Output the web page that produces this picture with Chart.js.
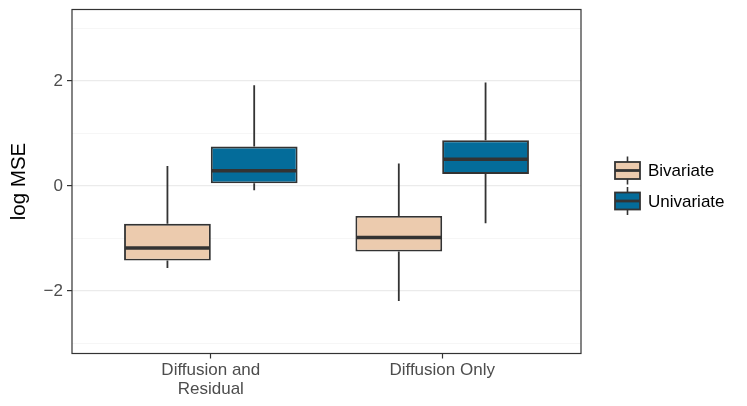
<!DOCTYPE html>
<html><head><meta charset="utf-8">
<script src="https://cdn.jsdelivr.net/npm/chart.js@4"></script>
<style>html,body{margin:0;padding:0;background:#fff}#wrap{width:747px;height:406px}</style>
</head><body><div id="wrap"><canvas id="c" width="747" height="406"></canvas></div>
<script>
const categories = [['Diffusion and', 'Residual'], ['Diffusion Only']];
const seriesNames = ['Bivariate', 'Univariate'];
const bivLow  = [-1.56, -2.19];
const bivQ1   = [-1.42, -1.25];
const bivMed  = [-1.18, -0.98];
const bivQ3   = [-0.72, -0.57];
const bivHigh = [0.38, 0.43];
const uniLow  = [-0.08, -0.71];
const uniQ1   = [0.05, 0.23];
const uniMed  = [0.29, 0.51];
const uniQ3   = [0.75, 0.87];
const uniHigh = [1.92, 1.97];
const yGridValues = [-3, -2, -1, 0, 1, 2, 3];
const yTickLabels = {'-2': '\u22122', '0': '0', '2': '2'};

const FONT = "'Liberation Sans', Arial, sans-serif";
const colors = ['#ECCBAE', '#046C9A'];
const stats = [
  {low: bivLow, q1: bivQ1, med: bivMed, q3: bivQ3, high: bivHigh},
  {low: uniLow, q1: uniQ1, med: uniMed, q3: uniQ3, high: uniHigh}
];

function boxData(s) {
  return categories.map((c, i) => ({x: i + 1, y: [s.q1[i], s.q3[i]]}));
}

const boxPlugin = {
  id: 'boxWhiskers',
  afterDatasetsDraw(chart) {
    const ctx = chart.ctx, ys = chart.scales.y;
    chart.data.datasets.forEach((ds, di) => {
      const st = stats[di];
      chart.getDatasetMeta(di).data.forEach((bar, i) => {
        const x = bar.x, w = bar.width;
        ctx.save();
        ctx.strokeStyle = '#333333';
        ctx.lineWidth = 1.8;
        ctx.beginPath();
        ctx.moveTo(x, ys.getPixelForValue(st.high[i]));
        ctx.lineTo(x, ys.getPixelForValue(st.q3[i]));
        ctx.moveTo(x, ys.getPixelForValue(st.low[i]));
        ctx.lineTo(x, ys.getPixelForValue(st.q1[i]));
        ctx.stroke();
        ctx.lineWidth = 3.6;
        const ym = ys.getPixelForValue(st.med[i]);
        ctx.beginPath();
        ctx.moveTo(x - w / 2 + 0.9, ym);
        ctx.lineTo(x + w / 2 - 0.9, ym);
        ctx.stroke();
        ctx.restore();
      });
    });
    // panel border
    const a = chart.chartArea;
    ctx.save();
    ctx.strokeStyle = '#333333';
    ctx.lineWidth = 1.2;
    ctx.strokeRect(a.left, a.top, a.right - a.left, a.bottom - a.top);
    ctx.restore();
  },
  afterDraw(chart) {
    // legend
    const ctx = chart.ctx, a = chart.chartArea;
    const kx = a.right + 34, kw = 25, kh = 17;
    const centers = [170.5, 201];
    chart.data.datasets.forEach((ds, di) => {
      const cy = centers[di];
      ctx.save();
      ctx.strokeStyle = '#333333';
      ctx.lineWidth = 1.6;
      ctx.beginPath();
      ctx.moveTo(kx + kw / 2, cy - 14); ctx.lineTo(kx + kw / 2, cy - kh / 2);
      ctx.moveTo(kx + kw / 2, cy + kh / 2); ctx.lineTo(kx + kw / 2, cy + 14);
      ctx.stroke();
      ctx.fillStyle = ds.backgroundColor;
      ctx.fillRect(kx, cy - kh / 2, kw, kh);
      ctx.lineWidth = 1.8;
      ctx.strokeRect(kx, cy - kh / 2, kw, kh);
      ctx.lineWidth = 2.8;
      ctx.beginPath();
      ctx.moveTo(kx, cy); ctx.lineTo(kx + kw, cy);
      ctx.stroke();
      ctx.fillStyle = '#000000';
      ctx.font = '17px ' + FONT;
      ctx.textBaseline = 'middle';
      ctx.textAlign = 'left';
      ctx.fillText(ds.label, kx + kw + 8, cy + 1);
      ctx.restore();
    });
  }
};

new Chart(document.getElementById('c'), {
  type: 'bar',
  data: {
    datasets: seriesNames.map((n, i) => ({
      label: n,
      data: boxData(stats[i]),
      backgroundColor: colors[i],
      borderColor: '#333333',
      borderWidth: 1.9,
      borderSkipped: false,
      categoryPercentage: 0.75,
      barPercentage: 1.0
    }))
  },
  options: {
    responsive: false,
    animation: false,
    devicePixelRatio: 1,
    layout: {padding: {top: 9.5, right: 166, left: 0, bottom: 0}},
    plugins: {legend: {display: false}, tooltip: {enabled: false}},
    scales: {
      x: {
        type: 'linear',
        min: 0.4, max: 2.6,
        offset: false,
        afterBuildTicks: (s) => { s.ticks = categories.map((c, i) => ({value: i + 1})); },
        afterFit: (s) => { s.height = 52.5; s.paddingLeft = 0; s.paddingRight = 0; },
        border: {display: false},
        grid: {display: true, offset: false, drawOnChartArea: false, drawTicks: true, tickLength: 5, tickColor: '#333333', tickWidth: 1.2},
        ticks: {
          autoSkip: false, maxRotation: 0,
          padding: 2,
          color: '#4D4D4D',
          font: {family: FONT, size: 17, lineHeight: 1.12},
          callback: (v) => categories[Math.round(v) - 1]
        }
      },
      y: {
        min: -3.19, max: 3.36,
        afterBuildTicks: (s) => { s.ticks = yGridValues.map(v => ({value: v})); },
        afterFit: (s) => { s.width = 72; s.paddingTop = 0; s.paddingBottom = 0; },
        border: {display: false},
        grid: {
          drawTicks: true, tickLength: 5,
          color: (c) => (c.tick && c.tick.value % 2 === 0) ? '#EBEBEB' : '#F2F2F2',
          lineWidth: (c) => (c.tick && c.tick.value % 2 === 0) ? 1.2 : 0.7,
          tickColor: (c) => (c.tick && c.tick.value % 2 === 0) ? '#333333' : 'rgba(0,0,0,0)',
          tickWidth: 1.2
        },
        ticks: {
          padding: 4,
          color: '#4D4D4D',
          font: {family: FONT, size: 17},
          callback: (v) => yTickLabels[String(v)] || ''
        },
        title: {
          display: true, text: 'log MSE', color: '#000000',
          font: {family: FONT, size: 20.5, lineHeight: 1.2},
          padding: {top: 7, bottom: 0}
        }
      }
    }
  },
  plugins: [boxPlugin]
});
</script>
</body></html>
